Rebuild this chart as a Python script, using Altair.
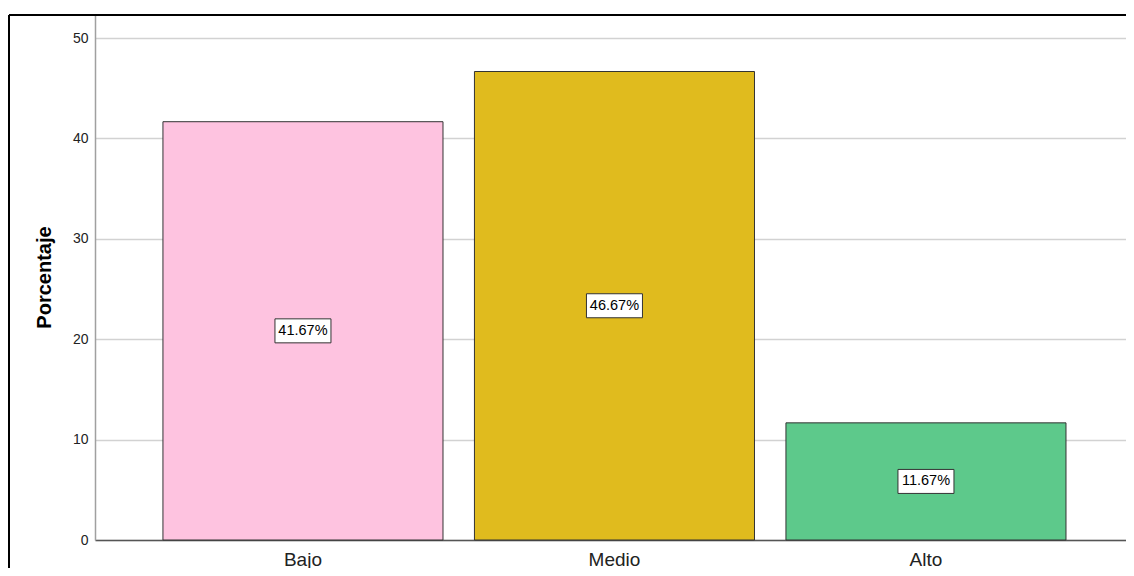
import altair as alt
import pandas as pd

categories = ["Bajo", "Medio", "Alto"]
percentages = [41.67, 46.67, 11.67]
bar_colors = ["#FEC3E0", "#E0BB1E", "#5DC98B"]
y_ticks = [0, 10, 20, 30, 40, 50]

df = pd.DataFrame({"cat": categories, "pct": percentages})
df["mid"] = df["pct"] / 2
df["label"] = [f"{v:.2f}%" for v in percentages]

FONT = "Liberation Sans"
W, H = 1031, 525

xscale = alt.Scale(domain=categories, paddingInner=0.101, paddingOuter=0.2054, align=0.531)
yscale = alt.Scale(domain=[0, 52.3], nice=False)

x_enc = alt.X("cat:N", scale=xscale, sort=categories,
              axis=alt.Axis(title=None, labelAngle=0, ticks=False, labelPadding=10,
                            labelFontSize=19, labelColor="#222", labelFont=FONT,
                            domainColor="#555", domainWidth=1.5, grid=False))
y_enc = alt.Y("pct:Q", scale=yscale,
              axis=alt.Axis(title="Porcentaje", values=y_ticks, ticks=False, labelPadding=7,
                            labelFontSize=14, labelColor="#222", labelFont=FONT,
                            titleFont=FONT, titleFontSize=20, titleFontWeight="bold",
                            titleColor="#000", titleX=-51, titleY=262, titleAngle=-90,
                            titleBaseline="middle", titleAlign="center",
                            domainColor="#a0a0a0", domainWidth=1.5,
                            grid=True, gridColor="#d2d2d2", gridWidth=1.5))

bars = alt.Chart(df).mark_bar(stroke="#333", strokeWidth=1).encode(
    x=x_enc,
    y=y_enc,
    color=alt.Color("cat:N", scale=alt.Scale(domain=categories, range=bar_colors), legend=None),
)

box_path = "M-1,-0.4286L1,-0.4286L1,0.4286L-1,0.4286Z"
boxes = alt.Chart(df).mark_point(shape=box_path, size=3136, filled=True, color="white",
                                 stroke="#333", strokeWidth=1, opacity=1).encode(
    x=alt.X("cat:N", scale=xscale, sort=categories),
    y=alt.Y("mid:Q", scale=yscale),
)
texts = alt.Chart(df).mark_text(font=FONT, fontSize=14.5, color="#000",
                                baseline="middle", align="center").encode(
    x=alt.X("cat:N", scale=xscale, sort=categories),
    y=alt.Y("mid:Q", scale=yscale),
    text="label:N",
)

frame_top = alt.Chart(df).mark_rule(color="#000", strokeWidth=2).encode(
    x=alt.value(-86), x2=alt.value(1050), y=alt.value(0))
frame_left = alt.Chart(df).mark_rule(color="#000", strokeWidth=2).encode(
    x=alt.value(-86), y=alt.value(0), y2=alt.value(600))

chart = alt.layer(bars, boxes, texts, frame_top, frame_left).properties(
    width=W, height=H,
    autosize=alt.AutoSizeParams(type="none"),
    padding={"left": 87, "top": 7, "right": 0, "bottom": 28},
    background="white",
).configure_view(stroke=None)

chart.save("out.html", embed_options={"renderer": "svg", "actions": False})
